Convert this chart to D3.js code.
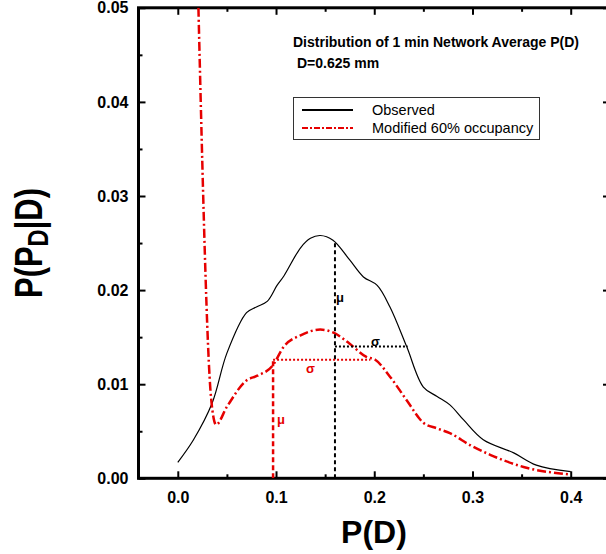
<!DOCTYPE html>
<html lang="en">
<head>
    <meta charset="UTF-8" />
    <title>Distribution of 1 min Network Average P(D)</title>
    <script src="https://d3js.org/d3.v7.min.js"></script>
    <style>
        body { margin: 0; background: #fff; }
        svg { display: block; font-family: Arial, "Liberation Sans", sans-serif; }
        .tick text { font-size: 16px; font-weight: bold; fill: #000; }
        .tick line { stroke: #000; stroke-width: 2; }
    </style>
</head>
<body>
<script>
    // Observed curve (P(D), probability)
    var obsX = [0.0, 0.016, 0.035, 0.05, 0.070, 0.080, 0.091, 0.101, 0.108, 0.125, 0.135, 0.145, 0.158,
        0.175, 0.189, 0.203, 0.216, 0.233, 0.250, 0.264, 0.277, 0.291, 0.311, 0.342, 0.365, 0.40];
    var obsY = [0.0017, 0.0041, 0.0080, 0.0133, 0.0176, 0.0182, 0.0188, 0.0205, 0.0215, 0.0245, 0.0255, 0.0258, 0.0253,
        0.0232, 0.0214, 0.0205, 0.0182, 0.0140, 0.0097, 0.0087, 0.0078, 0.0062, 0.0041, 0.0027, 0.0014, 0.0007];

    // Modified 60% occupancy curve
    var modX = [0.021, 0.034, 0.039, 0.05, 0.070, 0.081, 0.096, 0.108, 0.125, 0.145, 0.158, 0.175, 0.192,
        0.201, 0.216, 0.233, 0.250, 0.264, 0.277, 0.298, 0.318, 0.352, 0.40];
    var modY = [0.0500, 0.0084, 0.0057, 0.0076, 0.0104, 0.0109, 0.0119, 0.0140, 0.0152, 0.0158, 0.0155, 0.0143, 0.0129,
        0.0126, 0.0108, 0.0083, 0.0059, 0.0053, 0.0048, 0.0035, 0.0025, 0.0012, 0.0004];

    // mean / spread markers
    var obsMu = 0.16, obsMuTop = 0.0253, obsSigmaEnd = 0.234, obsSigmaY = 0.0140;
    var modMu = 0.097, modSigmaEnd = 0.196, modSigmaY = 0.0126;

    var xTicks = [0.0, 0.1, 0.2, 0.3, 0.4];
    var xMinor = [0.05, 0.15, 0.25, 0.35];
    var yTicks = [0.00, 0.01, 0.02, 0.03, 0.04, 0.05];
    var yMinor = [0.005, 0.015, 0.025, 0.035, 0.045];

    var legendLabels = ["Observed", "Modified 60% occupancy"];

    var w = 606, h = 554;
    var red = "#e60000";
    var dashDot = "9,3,2,3";

    var svg = d3.select("body").append("svg")
        .attr("width", w)
        .attr("height", h);

    var xScale = d3.scaleLinear().domain([-0.04, 0.44]).range([138.5, 610]);
    var yScale = d3.scaleLinear().domain([0, 0.05]).range([478.3, 7.8]);

    svg.append("clipPath").attr("id", "plot")
        .append("rect")
        .attr("x", xScale(-0.04)).attr("y", yScale(0.05))
        .attr("width", xScale(0.44) - xScale(-0.04))
        .attr("height", yScale(0) - yScale(0.05));

    // axes (ticks point inward)
    var fmt2 = d3.format(".2f"), fmt1 = d3.format(".1f");
    svg.append("g").attr("transform", "translate(" + xScale(-0.04) + ",0)")
        .call(d3.axisLeft(yScale).tickValues(yTicks).tickSize(-7).tickPadding(10).tickFormat(fmt2));
    svg.append("g").attr("transform", "translate(" + xScale(-0.04) + ",0)")
        .call(d3.axisLeft(yScale).tickValues(yMinor).tickSize(-4).tickFormat(""));
    svg.append("g").attr("transform", "translate(" + xScale(0.44) + ",0)")
        .call(d3.axisRight(yScale).tickValues(yTicks).tickSize(-7).tickFormat(""));
    svg.append("g").attr("transform", "translate(" + xScale(0.44) + ",0)")
        .call(d3.axisRight(yScale).tickValues(yMinor).tickSize(-4).tickFormat(""));
    svg.append("g").attr("transform", "translate(0," + yScale(0) + ")")
        .call(d3.axisBottom(xScale).tickValues(xTicks).tickSize(-7).tickPadding(13).tickFormat(fmt1));
    svg.append("g").attr("transform", "translate(0," + yScale(0) + ")")
        .call(d3.axisBottom(xScale).tickValues(xMinor).tickSize(-4).tickFormat(""));
    svg.append("g").attr("transform", "translate(0," + yScale(0.05) + ")")
        .call(d3.axisTop(xScale).tickValues(xTicks).tickSize(-7).tickFormat(""));
    svg.append("g").attr("transform", "translate(0," + yScale(0.05) + ")")
        .call(d3.axisTop(xScale).tickValues(xMinor).tickSize(-4).tickFormat(""));
    svg.selectAll(".domain").remove();

    // frame
    svg.append("rect")
        .attr("x", xScale(-0.04)).attr("y", yScale(0.05))
        .attr("width", xScale(0.44) - xScale(-0.04))
        .attr("height", yScale(0) - yScale(0.05))
        .style("fill", "none").style("stroke", "#000").style("stroke-width", 3);

    var plot = svg.append("g").attr("clip-path", "url(#plot)");

    var lineSmooth = d3.line()
        .x(function (d) { return xScale(d[0]); })
        .y(function (d) { return yScale(d[1]); })
        .curve(d3.curveCatmullRom.alpha(0.5));

    var line = d3.line()
        .x(function (d) { return xScale(d[0]); })
        .y(function (d) { return yScale(d[1]); })
        .curve(d3.curveMonotoneX);

    plot.append("path")
        .datum(d3.zip(obsX, obsY))
        .attr("d", lineSmooth)
        .style("fill", "none").style("stroke", "#000").style("stroke-width", 1.2);

    plot.append("path")
        .datum(d3.zip(modX, modY))
        .attr("d", line)
        .style("fill", "none").style("stroke", red).style("stroke-width", 2.5)
        .style("stroke-dasharray", dashDot);

    // observed mu / sigma
    plot.append("line")
        .attr("x1", xScale(obsMu)).attr("x2", xScale(obsMu))
        .attr("y1", yScale(0)).attr("y2", yScale(obsMuTop))
        .style("stroke", "#000").style("stroke-width", 2).style("stroke-dasharray", "4,3");
    plot.append("line")
        .attr("x1", xScale(obsMu)).attr("x2", xScale(obsSigmaEnd))
        .attr("y1", yScale(obsSigmaY)).attr("y2", yScale(obsSigmaY))
        .style("stroke", "#000").style("stroke-width", 2).style("stroke-dasharray", "2,2");

    // modified mu / sigma
    plot.append("line")
        .attr("x1", xScale(modMu)).attr("x2", xScale(modMu))
        .attr("y1", yScale(0)).attr("y2", yScale(modSigmaY))
        .style("stroke", red).style("stroke-width", 2.5).style("stroke-dasharray", "5,3");
    plot.append("line")
        .attr("x1", xScale(modMu)).attr("x2", xScale(modSigmaEnd))
        .attr("y1", yScale(modSigmaY)).attr("y2", yScale(modSigmaY))
        .style("stroke", red).style("stroke-width", 2).style("stroke-dasharray", "2,2");

    svg.append("text").attr("x", xScale(obsMu) + 1).attr("y", 302)
        .style("font-size", "13px").style("font-weight", "bold").text("μ");
    svg.append("text").attr("x", xScale(obsMu) + 36).attr("y", 346)
        .style("font-size", "13px").style("font-weight", "bold").text("σ");
    svg.append("text").attr("x", xScale(modMu) + 4).attr("y", 424)
        .style("font-size", "13px").style("font-weight", "bold").style("fill", red).text("μ");
    svg.append("text").attr("x", xScale(modMu) + 33).attr("y", 373)
        .style("font-size", "13px").style("font-weight", "bold").style("fill", red).text("σ");

    // title
    svg.append("text").attr("x", 293).attr("y", 47)
        .style("font-size", "14px").style("font-weight", "bold")
        .text("Distribution of 1 min Network Average P(D)");
    svg.append("text").attr("x", 297).attr("y", 68)
        .style("font-size", "14px").style("font-weight", "bold")
        .text("D=0.625 mm");

    // legend
    svg.append("rect").attr("x", 293.5).attr("y", 97.5).attr("width", 246).attr("height", 42)
        .style("fill", "#fff").style("stroke", "#333").style("stroke-width", 1);
    svg.append("line").attr("x1", 302).attr("x2", 353).attr("y1", 110).attr("y2", 110)
        .style("stroke", "#000").style("stroke-width", 2);
    svg.append("line").attr("x1", 302).attr("x2", 353).attr("y1", 128).attr("y2", 128)
        .style("stroke", red).style("stroke-width", 2).style("stroke-dasharray", "6,2,2,2");
    svg.selectAll(".legend-text")
        .data(legendLabels)
        .enter().append("text")
        .attr("class", "legend-text")
        .attr("x", 372)
        .attr("y", function (d, i) { return 115 + i * 18; })
        .style("font-size", "14.5px")
        .text(function (d) { return d; });

    // axis titles
    svg.append("text")
        .attr("text-anchor", "middle")
        .attr("x", 374).attr("y", 543)
        .style("font-size", "32px").style("font-weight", "bold")
        .text("P(D)");

    var yt = svg.append("text")
        .attr("text-anchor", "middle")
        .attr("transform", "translate(42,243) rotate(-90)")
        .attr("textLength", 110).attr("lengthAdjust", "spacingAndGlyphs")
        .style("font-size", "38px").style("font-weight", "bold");
    yt.append("tspan").text("P(P");
    yt.append("tspan").attr("dy", 6).style("font-size", "29px").text("D");
    yt.append("tspan").attr("dy", -6).text("|D)");
</script>
</body>
</html>
